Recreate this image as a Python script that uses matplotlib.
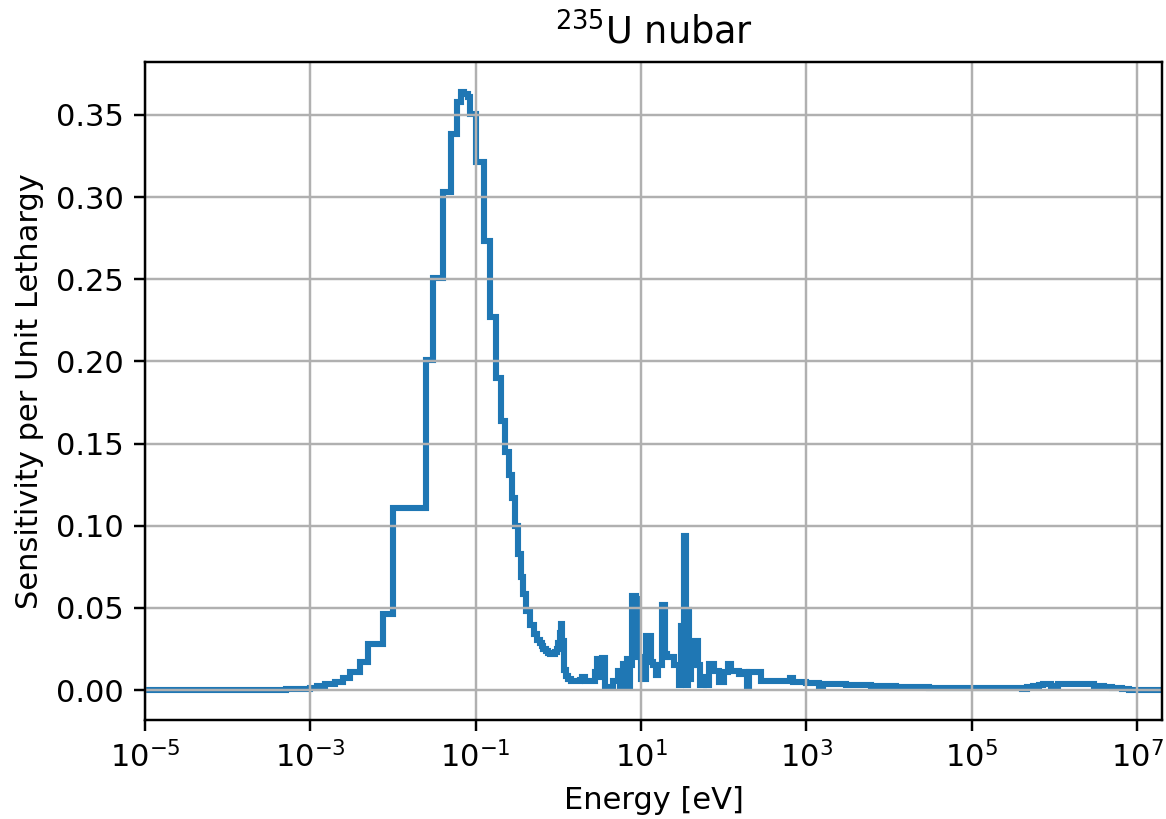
import matplotlib
matplotlib.use("Agg")
import matplotlib.pyplot as plt
import numpy as np


# group lower edges [eV] and sensitivity per unit lethargy
edges = [
    1e-5, 1e-4, 3e-4, 5e-4, 7.5e-4, 1e-3, 1.2e-3, 1.5e-3, 2e-3, 2.5e-3,
    3e-3, 4e-3, 5e-3, 7.5e-3, 1e-2, 2.53e-2, 3e-2, 4e-2, 5e-2, 6e-2,
    6.7e-2, 7.3e-2, 8e-2, 8.6e-2, 0.1, 0.125, 0.15, 0.175, 0.2, 0.225,
    0.25, 0.275, 0.3, 0.325, 0.35, 0.375, 0.4, 0.45, 0.5, 0.55,
    0.6, 0.625, 0.65, 0.7, 0.75, 0.8, 0.85, 0.9, 0.95, 1.0,
    1.05, 1.08, 1.12, 1.17, 1.24, 1.32, 1.42, 1.8, 1.95, 2.1,
    2.5, 2.8, 2.95, 3.1, 3.35, 3.65, 4.6, 5.3, 5.6, 6.0,
    6.3, 6.7, 7.2, 7.4, 7.8, 8.6, 9.3, 10.0, 11.5, 13.2,
    14.0, 15.0, 16.0, 17.9, 19.6, 20.7, 25.2, 28.9, 30.3, 33.2,
    35.0, 36.5, 38.2, 40.1, 42.0, 44.0, 49.0, 52.0, 58.0, 61.0,
    66.7, 76.6, 88.0, 101.0, 111.0, 122.0, 153.0, 176.0, 190.0, 200.0,
    212.0, 285.0, 630.0, 680.0, 980.0, 1400.0, 1600.0, 3000.0, 6000.0, 1.2e4,
    3e4, 1e5, 2e5, 4e5, 4.7e5, 5.5e5, 6.5e5, 7.3e5, 9e5, 1.1e6,
    1.3e6, 2.5e6, 3e6, 4e6, 5e6, 6.5e6, 8e6, 1e7, 2e7,
]

sens = [
    0.0000, 0.0001, 0.0003, 0.0005, 0.0008, 0.0012, 0.0023, 0.0034, 0.0050, 0.0075,
    0.0110, 0.0168, 0.0278, 0.0460, 0.1105, 0.2010, 0.2505, 0.3030, 0.3385, 0.3576,
    0.3640, 0.3627, 0.3612, 0.3505, 0.3215, 0.2730, 0.2270, 0.1900, 0.1635, 0.1450,
    0.1310, 0.1166, 0.1000, 0.0827, 0.0687, 0.0585, 0.0479, 0.0395, 0.0344, 0.0305,
    0.0285, 0.0270, 0.0252, 0.0237, 0.0226, 0.0220, 0.0222, 0.0232, 0.0250, 0.0285,
    0.0345, 0.0400, 0.0300, 0.0120, 0.0087, 0.0065, 0.0056, 0.0062, 0.0077, 0.0055,
    0.0057, 0.0107, 0.0188, 0.0077, 0.0198, 0.0016, 0.0057, 0.0117, 0.0027, 0.0157,
    0.0016, 0.0188, 0.0016, 0.0150, 0.0570, 0.0555, 0.0200, 0.0070, 0.0330, 0.0170,
    0.0150, 0.0090, 0.0150, 0.0520, 0.0220, 0.0200, 0.0150, 0.0030, 0.0390, 0.0940,
    0.0030, 0.0490, 0.0070, 0.0150, 0.0200, 0.0300, 0.0150, 0.0030, 0.0080, 0.0030,
    0.0158, 0.0117, 0.0047, 0.0110, 0.0158, 0.0117, 0.0097, 0.0110, 0.0016, 0.0110,
    0.0107, 0.0057, 0.0075, 0.0047, 0.0043, 0.0027, 0.0040, 0.0033, 0.0026, 0.0017,
    0.0012, 0.0012, 0.0015, 0.0008, 0.0018, 0.0026, 0.0031, 0.0036, 0.0022, 0.0034,
    0.0039, 0.0036, 0.0026, 0.0018, 0.0012, 0.0006, 0.0002, 0.0000,
]

DPI = 220
fig = plt.figure(figsize=(1166 / DPI, 819 / DPI), dpi=DPI)
ax = fig.add_subplot(111)
fig.subplots_adjust(left=0.1244, right=0.9966, top=0.9243, bottom=0.1209)

ax.stairs(sens, edges, baseline=None, color='tab:blue', linewidth=2.0)

ax.set_xscale('log')
ax.set_xlim(1e-5, 2e7)
ax.set_ylim(-0.0182, 0.3822)
ax.set_xticks([1e-5, 1e-3, 1e-1, 1e1, 1e3, 1e5, 1e7])
ax.minorticks_off()
ax.set_xlabel("Energy [eV]")
ax.set_ylabel("Sensitivity per Unit Lethargy")
ax.set_title("$^{235}$U nubar")
ax.grid(True)

fig.savefig("out.png", dpi=DPI)
